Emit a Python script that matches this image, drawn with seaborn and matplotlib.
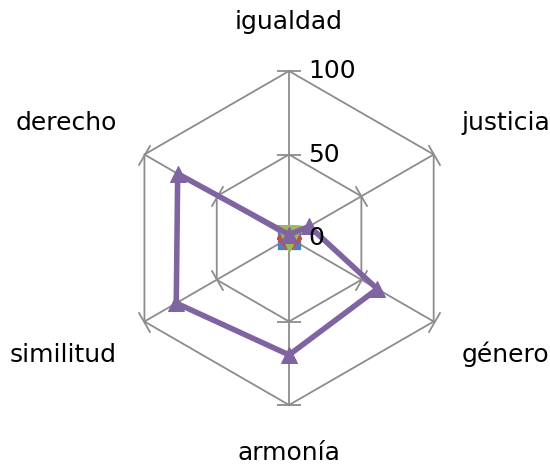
import numpy as np
import pandas as pd
import matplotlib
matplotlib.use("Agg")
import matplotlib.pyplot as plt
import matplotlib.transforms as mtransforms
import seaborn as sns

# Data
categorias = ["igualdad", "justicia", "género", "armonía", "similitud", "derecho"]
serie1 = [0, 0, 0, 0, 0, 0]
serie2 = [0, 0, 0, 0, 0, 0]
serie3 = [0, 0, 0, 0, 0, 0]
serie4 = [2, 14, 61, 70, 78, 77]
niveles = [0, 50, 100]

sns.set_theme(style="white")
plt.rcParams['font.family'] = ['DejaVu Sans']

fig = plt.figure(figsize=(5.5, 4.7), dpi=100)
ax = fig.add_axes([0.2219, 0.1383, 0.6073, 0.7106], projection="polar")
ax.set_theta_zero_location("N")
ax.set_theta_direction(-1)
ax.set_ylim(0, 100)
ax.grid(False)
ax.spines["polar"].set_visible(False)
ax.patch.set_alpha(0)

n = len(categorias)
theta = np.linspace(0, 2 * np.pi, n, endpoint=False)
theta_c = np.append(theta, theta[0])
gris = "#8c8c8c"

# hexagonal grid
for lvl in niveles[1:]:
    ax.plot(theta_c, [lvl] * (n + 1), color=gris, lw=1.3, zorder=1, clip_on=False)
for t in theta:
    ax.plot([t, t], [0, 100], color=gris, lw=1.3, zorder=1, clip_on=False)
    # small perpendicular tick marks
    phi = 90 - np.degrees(t)
    ax.plot([t, t], niveles[1:], ls="none", marker=(2, 0, phi),
            ms=17, mec=gris, mew=1.3, zorder=1, clip_on=False)

# radial labels
off = mtransforms.offset_copy(ax.transData, fig=fig, x=19, y=0, units="dots")
for lvl in niveles:
    ax.text(0, lvl, str(lvl), transform=off, ha="left", va="center",
            fontsize=18, color="black", zorder=5)

# category labels, offset from the end of each spoke
desplaz = [(0, 49, "center"), (28, 32, "left"), (28, -33, "left"),
           (0, -48, "center"), (-28, -33, "right"), (-27, 32, "right")]
for t, lab, (dx, dy, ha) in zip(theta, categorias, desplaz):
    tr = mtransforms.offset_copy(ax.transData, fig=fig, x=dx, y=dy, units="dots")
    ax.text(t, 100, lab, transform=tr, ha=ha, va="center", fontsize=18,
            color="black", clip_on=False)

series = [
    ("serie1", serie1, "#4f81bd", "s", 16, 2),
    ("serie2", serie2, "#c0504d", "D", 12, 2),
    ("serie3", serie3, "#9bbb59", "v", 18, 2),
    ("serie4", serie4, "#8064a2", "^", 12, 4),
]
for nombre, vals, col, mk, ms, lw in series:
    df = pd.DataFrame({"theta": theta_c, "valor": list(vals) + [vals[0]]})
    sns.lineplot(data=df, x="theta", y="valor", sort=False, estimator=None,
                 color=col, lw=lw, marker=mk, ms=ms, mec=col, mfc=col,
                 ax=ax, zorder=3, clip_on=False)

ax.set_xlabel("")
ax.set_ylabel("")
ax.set_xticks([])
ax.set_yticks([])
ax.set_ylim(0, 100)

fig.savefig("out.png", dpi=100)
